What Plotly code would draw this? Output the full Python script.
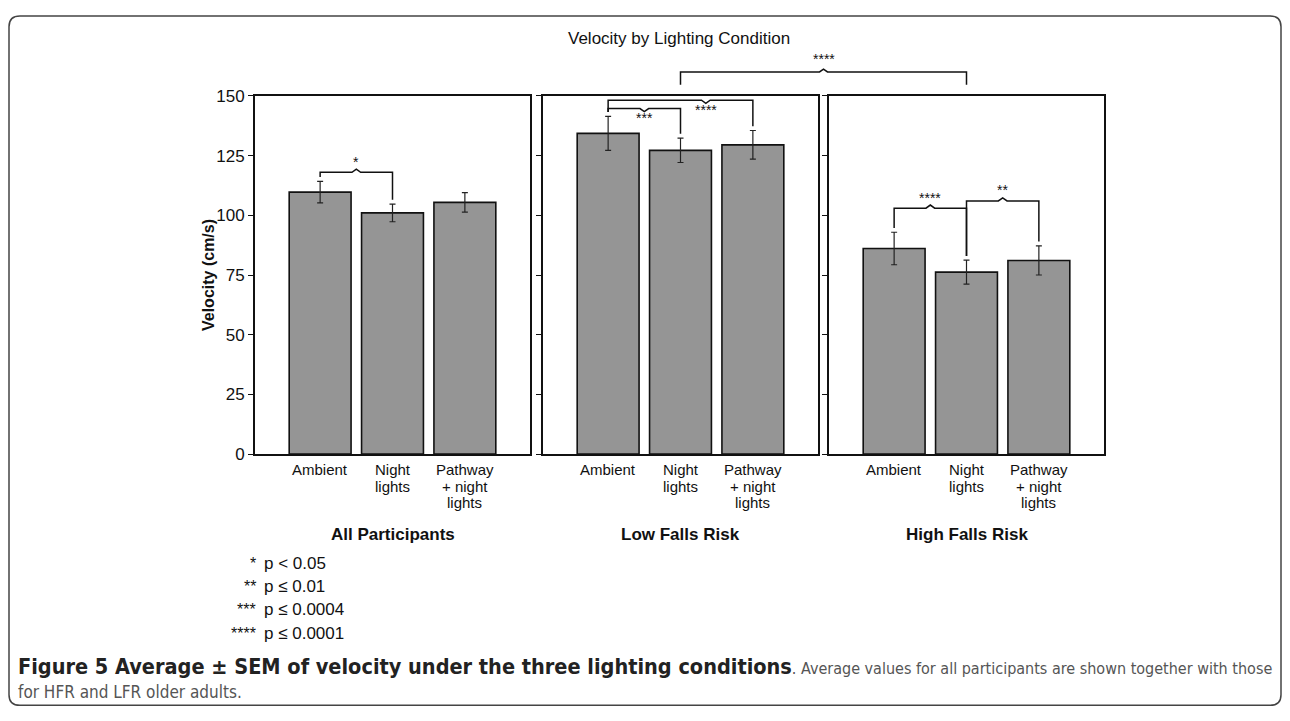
import plotly.graph_objects as go

# ---------------- data ----------------
categories = ["Ambient", "Night\nlights", "Pathway\n+ night\nlights"]
groups = ["All Participants", "Low Falls Risk", "High Falls Risk"]

all_mean = [109.7, 101.0, 105.4]
all_sem = [4.5, 3.7, 4.1]
lfr_mean = [134.3, 127.2, 129.5]
lfr_sem = [7.1, 5.1, 6.0]
hfr_mean = [86.1, 76.2, 81.1]
hfr_sem = [6.8, 5.0, 6.1]

y_ticks = [0, 25, 50, 75, 100, 125, 150]

# significance: (group index, category a, category b, label)
sig_within = [
    (0, 0, 1, "*"),
    (1, 0, 1, "***"),
    (1, 0, 2, "****"),
    (2, 0, 1, "****"),
    (2, 1, 2, "**"),
]
# between groups: (group a, group b, category, label)
sig_between = (1, 2, 1, "****")

legend_stars = ["*", "**", "***", "****"]
legend_text = ["p < 0.05", "p \u2264 0.01", "p \u2264 0.0004", "p \u2264 0.0001"]

title = "Velocity by Lighting Condition"
y_title = "Velocity (cm/s)"
caption_bold = "Figure 5 Average \u00b1 SEM of velocity under the three lighting conditions"
caption_rest1 = ". Average values for all participants are shown together with those"
caption_rest2 = "for HFR and LFR older adults."

means = [all_mean, lfr_mean, hfr_mean]
sems = [all_sem, lfr_sem, hfr_sem]

# ---------------- layout geometry (screen pixels) ----------------
W, H = 1290, 721
OFF = 8  # default page body margin
PANEL_X = [(255, 530), (543, 818), (829, 1104)]
PANEL_Y = (89, 457)
XR = [-0.9, 2.9]
YR = [0, 150]


def fx(px):
    return (px - OFF) / W


def fy(py):
    return 1 - (py - OFF) / H


def to_paper(g, x, y):
    x0, x1 = fx(PANEL_X[g][0]), fx(PANEL_X[g][1])
    y0, y1 = fy(PANEL_Y[1]), fy(PANEL_Y[0])
    return (x0 + (x - XR[0]) / (XR[1] - XR[0]) * (x1 - x0),
            y0 + (y - YR[0]) / (YR[1] - YR[0]) * (y1 - y0))


FONT = "Arial, Liberation Sans, Helvetica, sans-serif"
BAR_COLOR = "#959595"

fig = go.Figure()
xs = list(range(len(categories)))

for g in range(3):
    sfx = "" if g == 0 else str(g + 1)
    fig.add_trace(go.Bar(
        x=xs, y=means[g], width=0.855,
        marker=dict(color=BAR_COLOR, line=dict(color="#111", width=1.6)),
        error_y=dict(type="data", array=sems[g], color="#222", thickness=1.2, width=3),
        xaxis="x" + sfx, yaxis="y" + sfx, showlegend=False, hoverinfo="skip",
    ))
    fig.layout["xaxis" + sfx] = dict(
        domain=[fx(PANEL_X[g][0]), fx(PANEL_X[g][1])], range=XR,
        anchor="y" + sfx, showline=True, mirror=True, linecolor="#111", linewidth=2,
        showgrid=False, zeroline=False, showticklabels=False, ticks="",
        fixedrange=True,
    )
    fig.layout["yaxis" + sfx] = dict(
        domain=[fy(PANEL_Y[1]), fy(PANEL_Y[0])], range=YR,
        anchor="x" + sfx, showline=True, mirror=True, linecolor="#111", linewidth=2,
        showgrid=False, zeroline=False, tickvals=y_ticks, ticks="outside",
        ticklen=5, tickwidth=1.2, tickcolor="#111",
        showticklabels=(g == 0), tickfont=dict(family=FONT, size=17, color="#111"),
        fixedrange=True,
    )

annotations = []
shapes = []

# category labels (one line per annotation for tight line spacing)
for g in range(3):
    sfx = "" if g == 0 else str(g + 1)
    for i, cat in enumerate(categories):
        for k, line in enumerate(cat.split("\n")):
            annotations.append(dict(
                x=i, xref="x" + sfx, y=fy(473 + 17 * k), yref="paper",
                text=line, showarrow=False, xanchor="center", yanchor="middle",
                font=dict(family=FONT, size=15, color="#111"),
            ))
    # group label
    annotations.append(dict(
        x=fx((PANEL_X[g][0] + PANEL_X[g][1]) / 2), xref="paper", y=fy(539), yref="paper",
        text="<b>" + groups[g] + "</b>", showarrow=False,
        xanchor="center", yanchor="middle",
        font=dict(family=FONT, size=17, color="#111"),
    ))

# title and y title
annotations.append(dict(
    x=fx((PANEL_X[0][0] + PANEL_X[2][1]) / 2), xref="paper", y=fy(30), yref="paper",
    text=title, showarrow=False, xanchor="center", yanchor="middle",
    font=dict(family=FONT, size=17, color="#111"),
))
annotations.append(dict(
    x=fx(208), xref="paper", y=fy(273), yref="paper", textangle=-90,
    text="<b>" + y_title + "</b>", showarrow=False, xanchor="center", yanchor="middle",
    font=dict(family=FONT, size=16, color="#111"),
))

# significance brackets inside panels
bracket_style = {
    (0, 0, 1): dict(level=118.0, d=1, nx=None, ly=122.5),
    (1, 0, 1): dict(level=144.7, d=-1, nx=None, ly=140.6),
    (1, 0, 2): dict(level=148.2, d=-1, nx=1.35, ly=143.9),
    (2, 0, 1): dict(level=103.0, d=1, nx=None, ly=107.3),
    (2, 1, 2): dict(level=106.0, d=1, nx=None, ly=110.5),
}
NH, NW, GAP = 1.3, 0.06, 1.8
for (g, a, b, lab) in sig_within:
    st = bracket_style[(g, a, b)]
    sfx = "" if g == 0 else str(g + 1)
    h = st["level"]
    ya = means[g][a] + sems[g][a] + GAP
    yb = means[g][b] + sems[g][b] + GAP
    xn = st["nx"] if st["nx"] is not None else (a + b) / 2
    d = st["d"]
    path = (f"M {a},{ya} L {a},{h} L {xn - NW},{h} L {xn},{h + d * NH} "
            f"L {xn + NW},{h} L {b},{h} L {b},{yb}")
    shapes.append(dict(type="path", path=path, xref="x" + sfx, yref="y" + sfx,
                       line=dict(color="#111", width=1.5)))
    annotations.append(dict(
        x=xn, xref="x" + sfx, y=st["ly"], yref="y" + sfx, text=lab, showarrow=False,
        xanchor="center", yanchor="middle", font=dict(family=FONT, size=14, color="#111"),
    ))

# between-group bracket (drawn in paper space via the panel scales)
ga, gb, ci, lab = sig_between
LEVEL_B, STUB_B, LAB_B = 160.0, 154.7, 165.5
pa_top = to_paper(ga, ci, LEVEL_B)
pa_bot = to_paper(ga, ci, STUB_B)
pb_top = to_paper(gb, ci, LEVEL_B)
pb_bot = to_paper(gb, ci, STUB_B)
xc = (pa_top[0] + pb_top[0]) / 2
nwp = 4 / W
nhp = 3 / H
path = (f"M {pa_bot[0]},{pa_bot[1]} L {pa_top[0]},{pa_top[1]} L {xc - nwp},{pa_top[1]} "
        f"L {xc},{pa_top[1] + nhp} L {xc + nwp},{pa_top[1]} L {pb_top[0]},{pb_top[1]} "
        f"L {pb_bot[0]},{pb_bot[1]}")
shapes.append(dict(type="path", path=path, xref="paper", yref="paper",
                   line=dict(color="#111", width=1.5)))
annotations.append(dict(
    x=xc, xref="paper", y=to_paper(ga, ci, LAB_B)[1], yref="paper", text=lab,
    showarrow=False, xanchor="center", yanchor="middle",
    font=dict(family=FONT, size=14, color="#111"),
))

# significance legend
for k, (s, t) in enumerate(zip(legend_stars, legend_text)):
    yy = fy(569 + 24 * k)
    annotations.append(dict(x=fx(258), xref="paper", y=yy, yref="paper", text=s,
                            showarrow=False, xanchor="right", yanchor="middle",
                            font=dict(family=FONT, size=16, color="#111")))
    annotations.append(dict(x=fx(262), xref="paper", y=yy, yref="paper", text=t,
                            showarrow=False, xanchor="left", yanchor="middle",
                            font=dict(family=FONT, size=17, color="#111")))

# caption
CAP_FONT = "Liberation Sans Narrow, DejaVu Sans Condensed, Arial Narrow, sans-serif"
annotations.append(dict(
    x=fx(16), xref="paper", y=fy(675), yref="paper", xanchor="left", yanchor="middle",
    text=("<b>" + caption_bold + "</b><span style='color:#555;font-size:16px'>"
          + caption_rest1 + "</span>"),
    showarrow=False, font=dict(family=CAP_FONT, size=21.5, color="#222"),
))
annotations.append(dict(
    x=fx(16), xref="paper", y=fy(701), yref="paper", xanchor="left", yanchor="middle",
    text=caption_rest2, showarrow=False, font=dict(family=CAP_FONT, size=17, color="#555"),
))

# outer rounded frame
L, T, R, B, r = 9, 7, 1281, 715, 11
frame = (f"M {fx(L)},{fy(T + r)} Q {fx(L)},{fy(T)} {fx(L + r)},{fy(T)} "
         f"L {fx(R - r)},{fy(T)} Q {fx(R)},{fy(T)} {fx(R)},{fy(T + r)} "
         f"L {fx(R)},{fy(B - r)} Q {fx(R)},{fy(B)} {fx(R - r)},{fy(B)} "
         f"L {fx(L + r)},{fy(B)} Q {fx(L)},{fy(B)} {fx(L)},{fy(B - r)} Z")
shapes.append(dict(type="path", path=frame, xref="paper", yref="paper",
                   line=dict(color="#444", width=1.5), layer="below"))

fig.update_layout(
    width=W, height=H, margin=dict(l=0, r=0, t=0, b=0),
    paper_bgcolor="white", plot_bgcolor="white",
    annotations=annotations, shapes=shapes, bargap=0.15, showlegend=False,
)

fig.write_html("out.html")
